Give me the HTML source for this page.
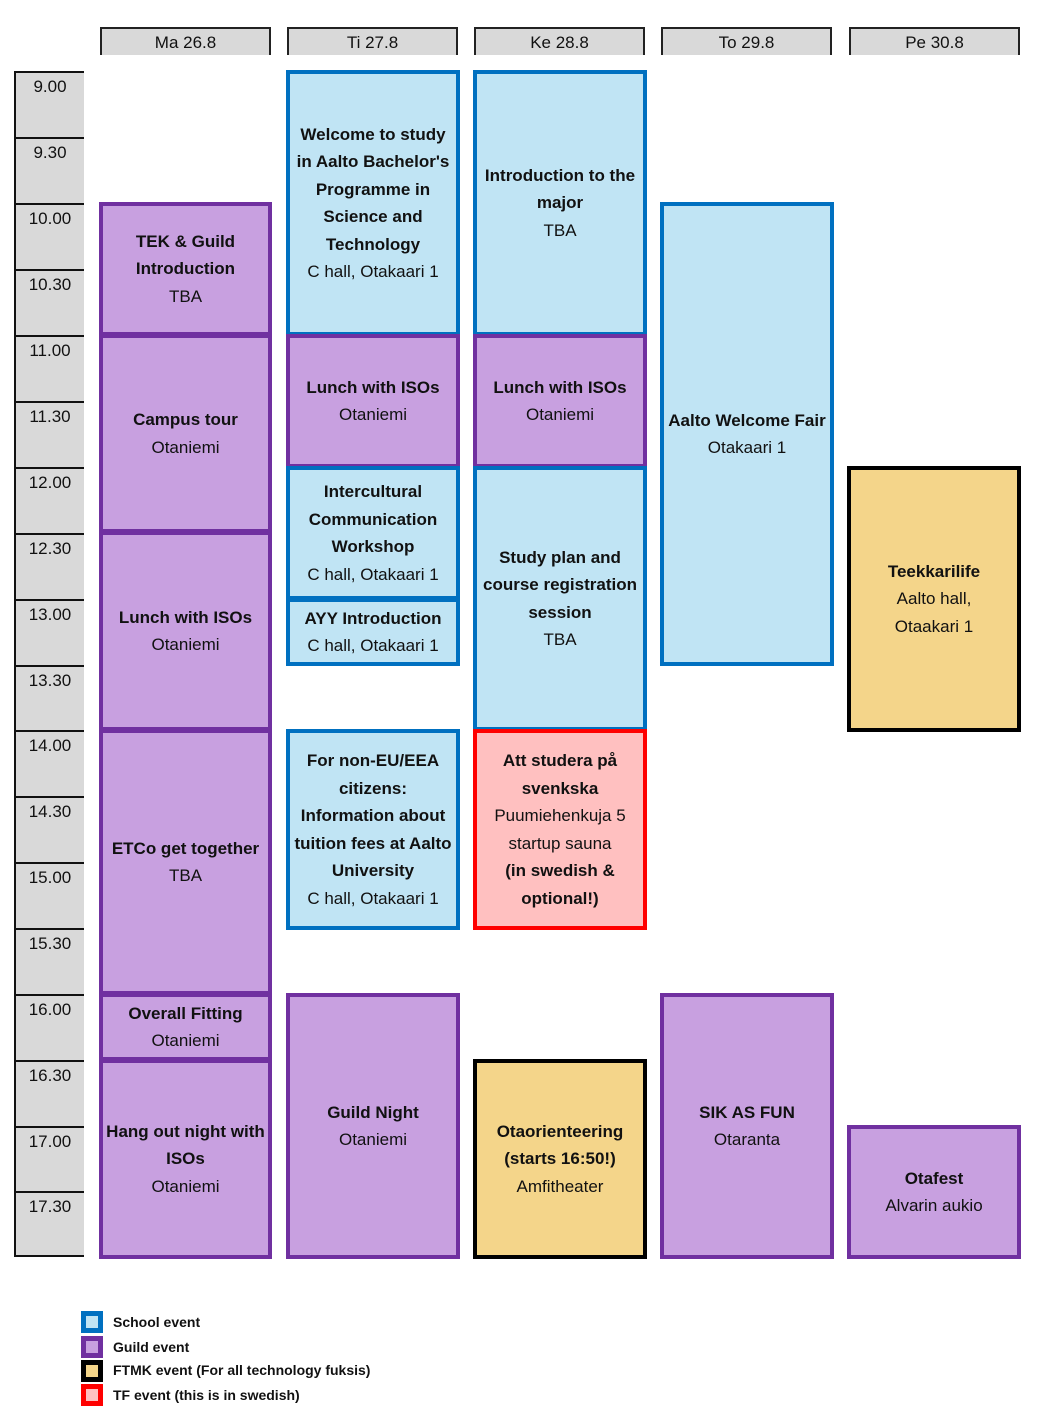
<!DOCTYPE html>
<html><head><style>
body{margin:0;width:1039px;height:1417px;background:#fff;position:relative;font-family:"Liberation Sans",sans-serif;overflow:hidden}
.h{position:absolute;top:27px;height:28px;width:171px;box-sizing:border-box;border:2px solid #222;border-bottom:none;background:#d9d9d9;text-align:center;font-size:17px;line-height:28px;color:#111}
.t{position:absolute;left:14px;width:70px;box-sizing:border-box;border-left:2px solid #111;border-top:2px solid #111;background:#d9d9d9;font-size:17px;text-align:center;padding-top:4px;color:#111}
.e{position:absolute;box-sizing:border-box;border:4px solid;display:flex;flex-direction:column;justify-content:center;align-items:center;text-align:center;font-size:17px;line-height:27.5px;color:#111}
.e b{font-weight:bold}
.s{border-color:#0070c0;background:#c0e4f4}
.g{border-color:#7030a0;background:#c8a0e0}
.f{border-color:#000;background:#f4d58a}
.r{border-color:#ff0000;background:#ffc0c0}
.lg{position:absolute;left:81px;width:22px;height:22px;box-sizing:border-box;border:5px solid}
.lt{position:absolute;left:113px;font-size:14px;font-weight:bold;color:#111}
</style></head><body>
<div class="h" style="left:100px">Ma 26.8</div>
<div class="h" style="left:287px">Ti 27.8</div>
<div class="h" style="left:474px">Ke 28.8</div>
<div class="h" style="left:661px">To 29.8</div>
<div class="h" style="left:849px">Pe 30.8</div>

<div class="t" style="top:71px;height:66px">9.00</div>
<div class="t" style="top:137px;height:66px">9.30</div>
<div class="t" style="top:203px;height:66px">10.00</div>
<div class="t" style="top:269px;height:66px">10.30</div>
<div class="t" style="top:335px;height:66px">11.00</div>
<div class="t" style="top:401px;height:66px">11.30</div>
<div class="t" style="top:467px;height:66px">12.00</div>
<div class="t" style="top:533px;height:66px">12.30</div>
<div class="t" style="top:599px;height:66px">13.00</div>
<div class="t" style="top:665px;height:65px">13.30</div>
<div class="t" style="top:730px;height:66px">14.00</div>
<div class="t" style="top:796px;height:66px">14.30</div>
<div class="t" style="top:862px;height:66px">15.00</div>
<div class="t" style="top:928px;height:66px">15.30</div>
<div class="t" style="top:994px;height:66px">16.00</div>
<div class="t" style="top:1060px;height:66px">16.30</div>
<div class="t" style="top:1126px;height:65px">17.00</div>
<div class="t" style="top:1191px;height:66px;border-bottom:2px solid #111">17.30</div>

<!-- Ma -->
<div class="e g" style="left:99px;width:173px;top:202px;height:134px"><b>TEK &amp; Guild<br>Introduction</b>TBA</div>
<div class="e g" style="left:99px;width:173px;top:334px;height:199px"><b>Campus tour</b>Otaniemi</div>
<div class="e g" style="left:99px;width:173px;top:531px;height:200px"><b>Lunch with ISOs</b>Otaniemi</div>
<div class="e g" style="left:99px;width:173px;top:729px;height:266px"><b>ETCo get together</b>TBA</div>
<div class="e g" style="left:99px;width:173px;top:993px;height:68px"><b>Overall Fitting</b>Otaniemi</div>
<div class="e g" style="left:99px;width:173px;top:1059px;height:200px"><b>Hang out night with<br>ISOs</b>Otaniemi</div>
<!-- Ti -->
<div class="e s" style="left:286px;width:174px;top:70px;height:266px"><b>Welcome to study<br>in Aalto Bachelor's<br>Programme in<br>Science and<br>Technology</b>C hall, Otakaari 1</div>
<div class="e g" style="left:286px;width:174px;top:334px;height:134px"><b>Lunch with ISOs</b>Otaniemi</div>
<div class="e s" style="left:286px;width:174px;top:466px;height:134px"><b>Intercultural<br>Communication<br>Workshop</b>C hall, Otakaari 1</div>
<div class="e s" style="left:286px;width:174px;top:598px;height:68px"><b>AYY Introduction</b>C hall, Otakaari 1</div>
<div class="e s" style="left:286px;width:174px;top:729px;height:201px"><b>For non-EU/EEA<br>citizens:<br>Information about<br>tuition fees at Aalto<br>University</b>C hall, Otakaari 1</div>
<div class="e g" style="left:286px;width:174px;top:993px;height:266px"><b>Guild Night</b>Otaniemi</div>
<!-- Ke -->
<div class="e s" style="left:473px;width:174px;top:70px;height:266px"><b>Introduction to the<br>major</b>TBA</div>
<div class="e g" style="left:473px;width:174px;top:334px;height:134px"><b>Lunch with ISOs</b>Otaniemi</div>
<div class="e s" style="left:473px;width:174px;top:466px;height:265px"><b>Study plan and<br>course registration<br>session</b>TBA</div>
<div class="e r" style="left:473px;width:174px;top:729px;height:201px"><b>Att studera på<br>svenkska</b>Puumiehenkuja 5<br>startup sauna<br><b>(in swedish &amp;<br>optional!)</b></div>
<div class="e f" style="left:473px;width:174px;top:1059px;height:200px"><b>Otaorienteering<br>(starts 16:50!)</b>Amfitheater</div>
<!-- To -->
<div class="e s" style="left:660px;width:174px;top:202px;height:464px"><b>Aalto Welcome Fair</b>Otakaari 1</div>
<div class="e g" style="left:660px;width:174px;top:993px;height:266px"><b>SIK AS FUN</b>Otaranta</div>
<!-- Pe -->
<div class="e f" style="left:847px;width:174px;top:466px;height:266px"><b>Teekkarilife</b>Aalto hall,<br>Otaakari 1</div>
<div class="e g" style="left:847px;width:174px;top:1125px;height:134px"><b>Otafest</b>Alvarin aukio</div>

<div class="lg" style="top:1311px;border-color:#0070c0;background:#c0e4f4"></div><div class="lt" style="top:1314px">School event</div>
<div class="lg" style="top:1336px;border-color:#7030a0;background:#c8a0e0"></div><div class="lt" style="top:1339px">Guild event</div>
<div class="lg" style="top:1360px;border-color:#000;background:#f4d58a"></div><div class="lt" style="top:1362px">FTMK event (For all technology fuksis)</div>
<div class="lg" style="top:1384px;border-color:#ff0000;background:#ffc0c0"></div><div class="lt" style="top:1387px">TF event (this is in swedish)</div>
</body></html>
